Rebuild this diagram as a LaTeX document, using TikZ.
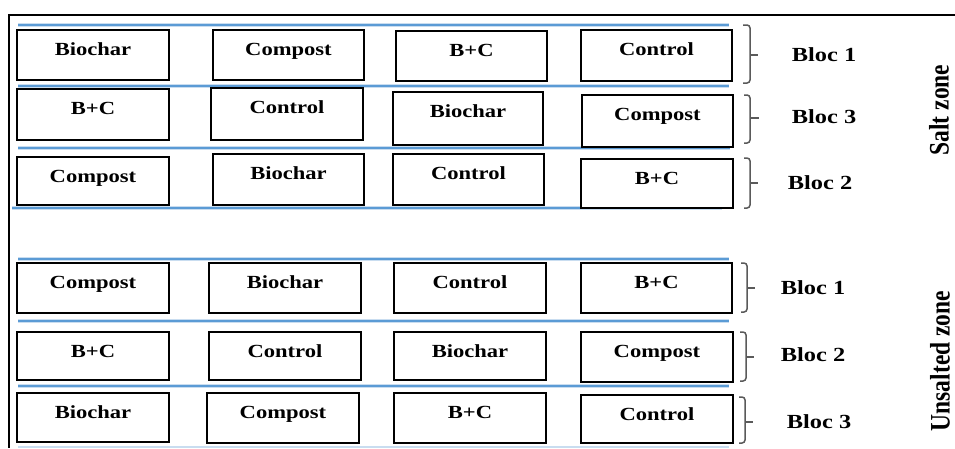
\documentclass[tikz,border=0pt]{standalone}
\usepackage{fontspec}
\setmainfont{Liberation Serif}
\newfontfamily\widefont[FakeStretch=1.22]{Liberation Serif}
\usetikzlibrary{fit}
\definecolor{lineblue}{HTML}{5B9BD5}
\definecolor{glowblue}{HTML}{C9DDF0}
\definecolor{bracegray}{HTML}{5A5A5A}
\newcommand\plotbox[6]{%
  \node[cell, fit={(#2,#3) (#4,#5)}] (#1) {};
  \node[celltext] (#1t) at ([yshift=-25pt]#1.north) {#6};}
\newcommand\bracketshape[6]{% x-left, x-vertical, ytop, ybot, ymid, xtick
  \draw[brace] (#1,#3) -- (#2,#3) -- (#2,#4) -- (#1,#4);
  \draw[brace] (#2,#5) -- (#6,#5);}
\newcommand\sepline[3]{% y, x1, x2
  \draw[glowline] (#2,#1) -- (#3,#1);
  \draw[sepblue] (#2,#1) -- (#3,#1);}
\begin{document}
\begin{tikzpicture}[x=1pt,y=-1pt,
  cell/.style={draw=black, line width=2.8pt, fill=white, inner sep=0pt, outer sep=0pt},
  celltext/.style={font=\widefont\bfseries\fontsize{18.5}{20}\selectfont, inner sep=0pt, anchor=base},
  bloctext/.style={font=\widefont\bfseries\fontsize{20}{22}\selectfont, inner sep=0pt},
  zonetext/.style={font=\bfseries\fontsize{23.5}{25}\selectfont, inner sep=0pt, rotate=90},
  brace/.style={draw=bracegray, line width=1.5pt, rounded corners=3pt},
  sepblue/.style={draw=lineblue, line width=2pt},
  glowline/.style={draw=glowblue, line width=4pt},
  frame/.style={draw=black, line width=1.5pt}]
\useasboundingbox (0,0) rectangle (955,448);
\fill[white] (0,0) rectangle (955,448);
% frame
\draw[frame] (955,15) -- (9,15) -- (9,448);
% separator lines (salt zone)
\sepline{25}{18}{729}
\sepline{86}{18}{729}
\sepline{148}{18}{730}
\sepline{208}{12}{722}
% separator lines (unsalted zone)
\sepline{259}{18}{729}
\sepline{321}{18}{729}
\sepline{386}{18}{729}
\draw[draw=glowblue, line width=2pt] (18,447) -- (729,447);
% salt zone, bloc 1
\plotbox{sa1}{17}{30}{169}{80}{Biochar}
\plotbox{sa2}{213}{30}{364}{80}{Compost}
\plotbox{sa3}{396}{31}{547}{81}{B+C}
\plotbox{sa4}{581}{30}{732}{81}{Control}
% salt zone, bloc 3
\plotbox{sb1}{17}{89}{169}{140}{B+C}
\plotbox{sb2}{211}{88}{363}{140}{Control}
\plotbox{sb3}{393}{92}{543}{145}{Biochar}
\plotbox{sb4}{582}{95}{733}{147}{Compost}
% salt zone, bloc 2
\plotbox{sc1}{17}{157}{169}{205}{Compost}
\plotbox{sc2}{213}{154}{364}{205}{Biochar}
\plotbox{sc3}{393}{154}{544}{205}{Control}
\plotbox{sc4}{581}{159}{733}{208}{B+C}
% unsalted zone, bloc 1
\plotbox{ua1}{17}{263}{169}{313}{Compost}
\plotbox{ua2}{209}{263}{361}{313}{Biochar}
\plotbox{ua3}{394}{263}{546}{313}{Control}
\plotbox{ua4}{581}{263}{732}{313}{B+C}
% unsalted zone, bloc 2
\plotbox{ub1}{17}{332}{169}{380}{B+C}
\plotbox{ub2}{209}{332}{361}{380}{Control}
\plotbox{ub3}{394}{332}{546}{380}{Biochar}
\plotbox{ub4}{581}{332}{733}{382}{Compost}
% unsalted zone, bloc 3
\plotbox{uc1}{17}{393}{169}{442}{Biochar}
\plotbox{uc2}{207}{393}{359}{443}{Compost}
\plotbox{uc3}{394}{393}{546}{443}{B+C}
\plotbox{uc4}{581}{395}{733}{443}{Control}
% brackets
\bracketshape{743}{750}{25}{83}{55}{758}
\bracketshape{744}{750}{95}{143}{118}{759}
\bracketshape{744}{750}{158}{208}{183}{758}
\bracketshape{741}{747}{263}{312}{288}{755}
\bracketshape{740}{746}{332}{381}{357}{754}
\bracketshape{739}{745}{397}{443}{422}{753}
% bloc labels
\node[bloctext] (lsa) at (824,55) {Bloc 1};
\node[bloctext] (lsb) at (824,117) {Bloc 3};
\node[bloctext] (lsc) at (820,183) {Bloc 2};
\node[bloctext] (lua) at (813,288) {Bloc 1};
\node[bloctext] (lub) at (813,355) {Bloc 2};
\node[bloctext] (luc) at (819,422) {Bloc 3};
% zone labels
\node[zonetext] (zsalt) at (939,110) {\scalebox{1}[1.2]{Salt zone}};
\node[zonetext] (zuns) at (940,361) {\scalebox{1}[1.2]{Unsalted zone}};
\end{tikzpicture}
\end{document}
